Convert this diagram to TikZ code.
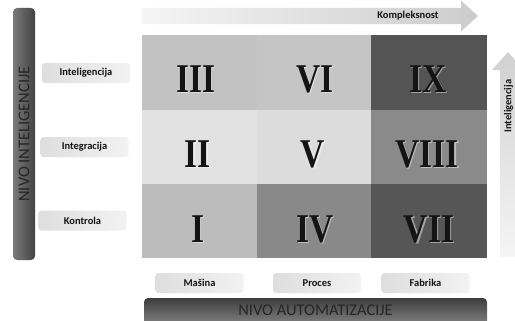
\documentclass[tikz,border=0pt]{standalone}
\usepackage{fontspec}
\setmainfont{Carlito}[BoldFont={Carlito Bold}]
\newfontfamily\numfont{Liberation Serif}
\definecolor{cIII}{HTML}{C2C2C2}
\definecolor{cVI}{HTML}{C5C5C5}
\definecolor{cIX}{HTML}{545454}
\definecolor{cII}{HTML}{E1E1E1}
\definecolor{cV}{HTML}{DCDCDC}
\definecolor{cVIII}{HTML}{8A8A8A}
\definecolor{cI}{HTML}{BCBCBC}
\definecolor{cIV}{HTML}{898989}
\definecolor{cVII}{HTML}{565656}
\definecolor{ink}{HTML}{141414}
\tikzset{
  cell/.style={minimum width=116bp, minimum height=74bp, inner sep=0pt, outer sep=0pt},
  numtext/.style={anchor=base, inner sep=0pt, text=ink, xscale=0.82,
    font=\numfont\bfseries\fontsize{41}{41}\selectfont},
  numshade/.style={numtext, text=white, opacity=0.45},
  tag/.style={rounded corners=3bp, minimum width=88bp, minimum height=20bp, inner sep=0pt,
    left color=black!13, right color=black!5, text=ink, font=\bfseries\fontsize{10.5}{12}\selectfont},
  bar/.style={rounded corners=4bp, inner sep=0pt},
  bartext/.style={text=black!85, font=\fontsize{16.5}{18}\selectfont},
  arrowtext/.style={text=ink, font=\bfseries\fontsize{10.5}{12}\selectfont}
}
% numeral with a soft highlight offset behind it
\newcommand\romanmark[2]{%
  \node[numshade] at ([shift={(1.4bp,-1.2bp)}]#1) {#2};
  \node[numtext] at (#1) {#2};}
\begin{document}
\begin{tikzpicture}[x=1bp,y=1bp]
\useasboundingbox (0,0) rectangle (515,320);
\clip (0,0) rectangle (515,320);

% top arrow: complexity
\shade[left color=black!4, right color=black!20]
  (142,312) -- (461,312) -- (461,319.5) -- (478,304) -- (461,288.5) -- (461,296) -- (142,296) -- cycle;
\node[arrowtext] (kompl) at (408,304) {Kompleksnost};

% right arrow: intelligence
\shade[bottom color=black!4, top color=black!18]
  (500,63) -- (500,250) -- (492,250) -- (508,268) -- (524,250) -- (516,250) -- (516,63) -- cycle;
\node[arrowtext, rotate=90] (intel) at (508.5,214) {Inteligencija};

% matrix cells
\node[cell, fill=cIII]  (c3) at (200,247.5) {};
\node[cell, fill=cVI]   (c6) at (315,247.5) {};
\node[cell, fill=cIX]   (c9) at (429,247.5) {};
\node[cell, fill=cII]   (c2) at (200,173.5) {};
\node[cell, fill=cV]    (c5) at (315,173.5) {};
\node[cell, fill=cVIII] (c8) at (429,173.5) {};
\node[cell, fill=cI]    (c1) at (200,99) {};
\node[cell, fill=cIV]   (c4) at (315,99) {};
\node[cell, fill=cVII]  (c7) at (429,99) {};

% numerals, baseline near the lower part of each cell
\coordinate (n3) at (196,228);  \romanmark{n3}{III}
\coordinate (n6) at (315,228);  \romanmark{n6}{VI}
\coordinate (n9) at (428,228);  \romanmark{n9}{IX}
\coordinate (n2) at (198,153);  \romanmark{n2}{II}
\coordinate (n5) at (313,153);  \romanmark{n5}{V}
\coordinate (n8) at (427,153);  \romanmark{n8}{VIII}
\coordinate (n1) at (198,78);   \romanmark{n1}{I}
\coordinate (n4) at (315,78);   \romanmark{n4}{IV}
\coordinate (n7) at (429,78);   \romanmark{n7}{VII}

% axis bars
\node[bar, left color=black!52, right color=black!74, minimum width=22bp, minimum height=252bp]
  (levelint) at (24,186) {};
\node[bartext, rotate=90] (levelinttext) at (levelint) {NIVO INTELIGENCIJE};
\node[bar, top color=black!76, bottom color=black!48, minimum width=343bp, minimum height=28bp]
  (levelaut) at (315.5,8) {};
\node[bartext] (levelauttext) at (315.5,10) {NIVO AUTOMATIZACIJE};

% row labels
\node[tag] (tint)  at (86,247)   {Inteligencija};
\node[tag] (tintg) at (84.5,173) {Integracija};
\node[tag] (tkon)  at (82.5,99.5) {Kontrola};

% column labels
\node[tag] (tmas) at (199.5,37) {Mašina};
\node[tag] (tpro) at (317,37)   {Proces};
\node[tag] (tfab) at (425.5,37) {Fabrika};
\end{tikzpicture}
\end{document}
